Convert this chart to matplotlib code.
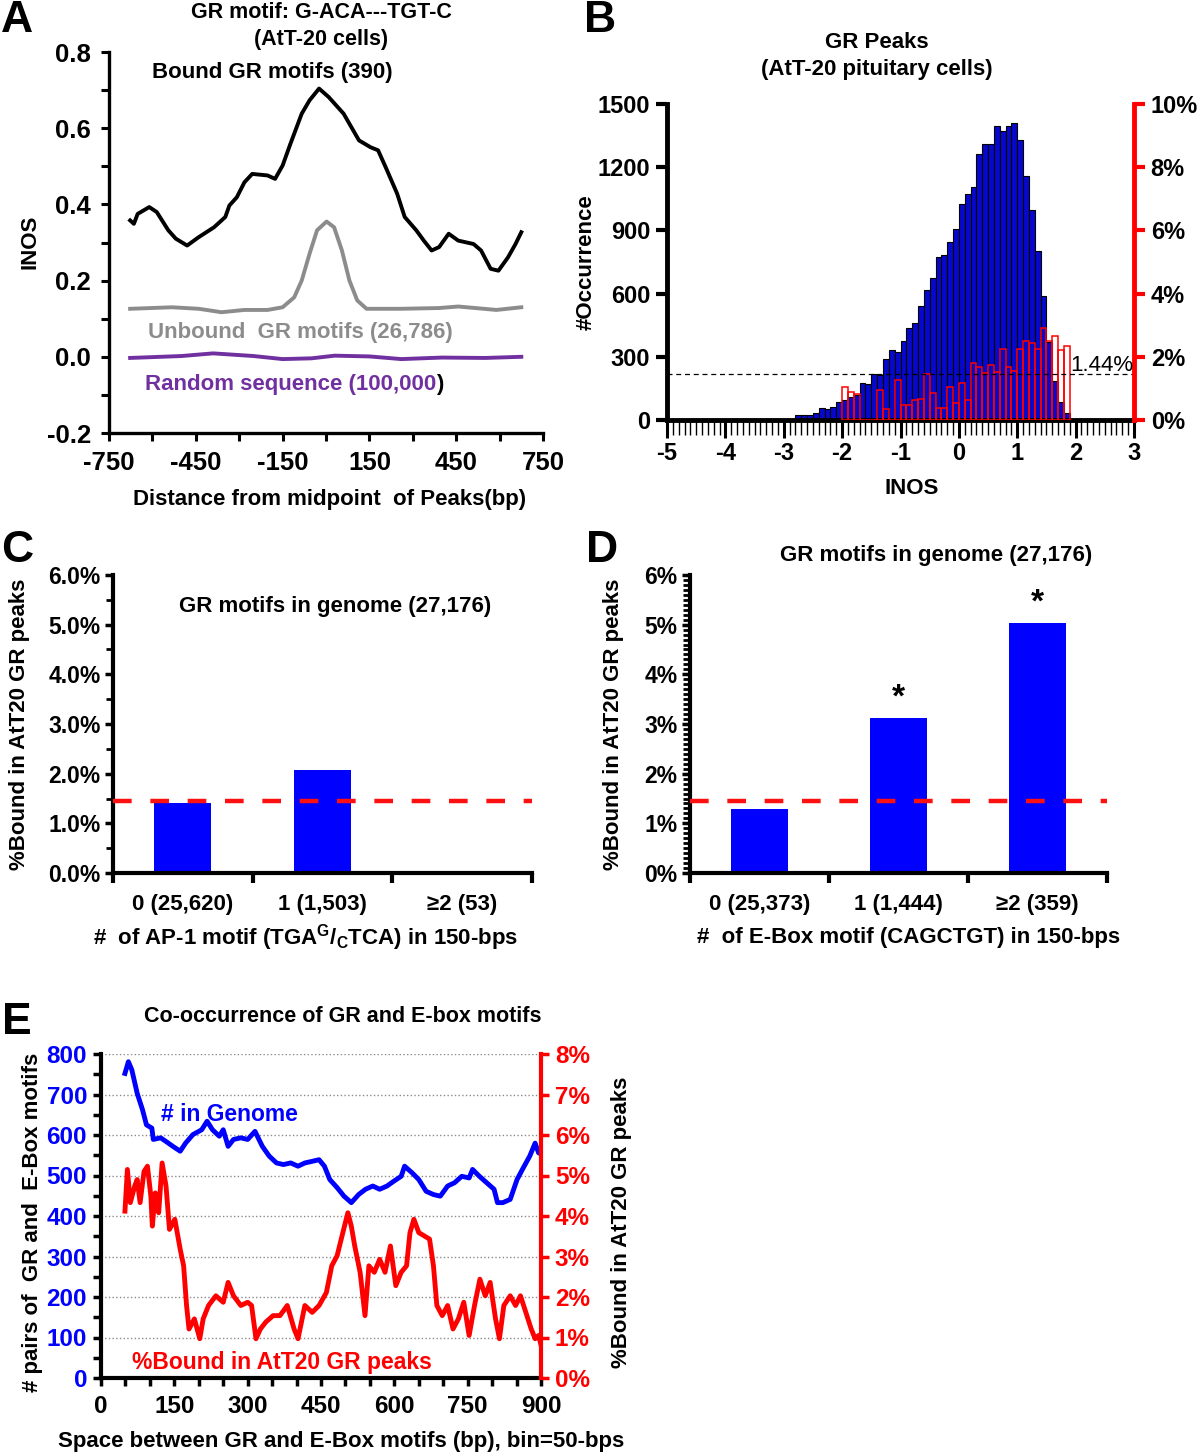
import matplotlib
matplotlib.use("Agg")
import matplotlib.pyplot as plt
from matplotlib.ticker import MultipleLocator, FixedLocator, FuncFormatter

FONT = 'Liberation Sans'
plt.rcParams['font.family'] = [FONT, 'DejaVu Sans']
plt.rcParams['font.weight'] = 'bold'
plt.rcParams['mathtext.fontset'] = 'custom'
plt.rcParams['mathtext.rm'] = FONT + ':bold'
plt.rcParams['mathtext.bf'] = FONT + ':bold'
plt.rcParams['mathtext.it'] = FONT + ':bold'

# ---- panel A: INOS profiles around GR motifs
a_bound_x = [-677, -664, -651, -611, -585, -545, -519, -480, -440, -387, -348, -334, -308,
             -282, -255, -202, -176, -150, -123, -84, -57, -24, 9, 61, 114, 154, 180, 206,
             246, 272, 312, 338, 365, 391, 424, 457, 510, 536, 569, 596, 629, 655, 675]
a_bound_y = [0.358, 0.349, 0.375, 0.393, 0.380, 0.332, 0.310, 0.292, 0.314, 0.340, 0.367,
             0.397, 0.419, 0.458, 0.480, 0.476, 0.467, 0.502, 0.559, 0.638, 0.673, 0.704,
             0.682, 0.638, 0.568, 0.550, 0.542, 0.498, 0.428, 0.367, 0.332, 0.305, 0.279,
             0.288, 0.323, 0.305, 0.296, 0.279, 0.231, 0.226, 0.261, 0.296, 0.327]
a_unbound_x = [-677, -532, -440, -361, -282, -202, -150, -110, -84, -57, -31, 2, 28, 55, 81,
               108, 140, 259, 391, 457, 589, 675]
a_unbound_y = [0.126, 0.130, 0.126, 0.117, 0.123, 0.123, 0.130, 0.156, 0.200, 0.270, 0.332,
               0.355, 0.340, 0.279, 0.200, 0.148, 0.126, 0.126, 0.128, 0.132, 0.123, 0.130]
a_random_x = [-677, -500, -390, -250, -150, -50, 30, 150, 260, 400, 550, 675]
a_random_y = [-0.003, 0.002, 0.009, 0.002, -0.006, -0.004, 0.003, 0.001, -0.006, -0.002,
              -0.003, 0.0]

# ---- panel B: INOS histogram of GR peaks (bins of 0.1)
b_blue_bins = [-2.8, -2.7, -2.6, -2.5, -2.4, -2.3, -2.2, -2.1, -2.0, -1.9, -1.8, -1.7, -1.6,
               -1.5, -1.4, -1.3, -1.2, -1.1, -1.0, -0.9, -0.8, -0.7, -0.6, -0.5, -0.4, -0.3,
               -0.2, -0.1, 0.0, 0.1, 0.2, 0.3, 0.4, 0.5, 0.6, 0.7, 0.8, 0.9, 1.0, 1.1, 1.2,
               1.3, 1.4, 1.5, 1.6, 1.7, 1.8]
b_counts = [25, 25, 25, 35, 55, 50, 60, 85, 95, 110, 120, 175, 170, 220, 215, 290, 330, 325,
            375, 435, 460, 540, 615, 675, 775, 785, 845, 905, 1025, 1075, 1105, 1265, 1310,
            1310, 1395, 1370, 1395, 1410, 1330, 1160, 995, 800, 590, 370, 185, 85, 35]
b_red_bins = [-2.0, -1.9, -1.8, -1.7, -1.6, -1.5, -1.4, -1.3, -1.2, -1.1, -1.0, -0.9, -0.8,
              -0.7, -0.6, -0.5, -0.4, -0.3, -0.2, -0.1, 0.0, 0.1, 0.2, 0.3, 0.4, 0.5, 0.6,
              0.7, 0.8, 0.9, 1.0, 1.1, 1.2, 1.3, 1.4, 1.5, 1.6, 1.7, 1.8]
b_pct = [1.04, 0.88, 0.81, 0, 0, 0, 0.94, 0.34, 0, 1.26, 0.49, 0.48, 0.64, 0.67, 1.45, 0.87,
         0.37, 0.37, 1.04, 0.54, 1.17, 0.64, 1.79, 1.67, 1.48, 1.75, 1.51, 2.25, 1.67, 1.55,
         2.25, 2.5, 2.43, 2.26, 2.91, 2.49, 2.67, 2.21, 2.35]
overall_pct = 1.44

# ---- panels C and D
c_labels = ["0 (25,620)", "1 (1,503)", "\u22652 (53)"]
c_values = [1.40, 2.07, 0.0]
d_labels = ["0 (25,373)", "1 (1,444)", "\u22652 (359)"]
d_values = [1.29, 3.13, 5.04]

# ---- panel E: co-occurrence vs spacing
e_blue_x = [49, 56, 63, 74, 85, 93, 104, 107, 122, 133, 147, 162, 173, 188, 206, 217, 228,
            242, 250, 260, 271, 286, 300, 315, 330, 344, 359, 373, 388, 403, 417, 432, 446,
            457, 468, 483, 497, 512, 527, 541, 556, 570, 585, 599, 614, 621, 636, 650, 665,
            680, 694, 709, 723, 738, 753, 760, 774, 789, 804, 811, 822, 837, 851, 862, 877,
            888, 895, 902]
e_blue_y = [752, 781, 761, 703, 662, 625, 617, 589, 593, 584, 572, 560, 580, 601, 613, 634,
            613, 597, 613, 572, 589, 593, 589, 609, 572, 548, 531, 527, 531, 523, 531, 535,
            539, 523, 490, 470, 449, 433, 453, 466, 474, 466, 474, 486, 498, 523, 507, 490,
            461, 453, 449, 474, 482, 498, 494, 515, 498, 482, 466, 433, 433, 441, 490, 515,
            548, 580, 556, 552]
e_red_x = [49, 54, 60, 69, 74, 80, 88, 95, 102, 105, 111, 118, 125, 133, 140, 151, 162, 169,
           175, 180, 191, 202, 209, 220, 235, 250, 260, 271, 286, 300, 308, 317, 326, 337,
           352, 366, 381, 395, 403, 417, 432, 446, 461, 472, 483, 498, 505, 512, 519, 530,
           540, 548, 559, 570, 581, 592, 603, 614, 625, 632, 640, 650, 661, 672, 680, 687,
           698, 709, 720, 731, 742, 753, 764, 775, 786, 796, 807, 815, 824, 837, 848, 858,
           869, 880, 888, 895, 902]
e_red_y = [4.12, 5.15, 4.33, 4.74, 4.90, 4.33, 5.10, 5.23, 4.49, 3.75, 4.57, 4.08, 5.31,
           4.74, 3.67, 3.92, 3.18, 2.77, 1.79, 1.21, 1.46, 0.97, 1.46, 1.79, 2.03, 1.87,
           2.36, 2.03, 1.79, 1.87, 1.79, 0.97, 1.21, 1.38, 1.54, 1.54, 1.79, 1.21, 0.97,
           1.79, 1.62, 1.79, 2.11, 2.77, 3.02, 3.75, 4.08, 3.75, 3.26, 2.61, 1.54, 2.77,
           2.61, 2.93, 2.61, 3.26, 2.28, 2.61, 2.77, 3.59, 3.92, 3.59, 3.51, 3.43, 2.77,
           1.79, 1.54, 1.79, 1.21, 1.46, 1.87, 1.05, 1.79, 2.44, 2.03, 2.36, 1.46, 0.97,
           1.79, 2.03, 1.79, 2.03, 1.62, 1.21, 0.97, 1.05, 0.72]

W, H = 1200, 1455
fig = plt.figure(figsize=(12, 14.55), dpi=100)

TICK = 17
LAB = 16
TITLE = 15.5


def px_axes(l, t, r, b):
    return fig.add_axes([l / W, 1 - b / H, (r - l) / W, (b - t) / H])


def ftext(x, y, s, **kw):
    kw.setdefault('ha', 'center')
    kw.setdefault('va', 'center')
    fig.text(x / W, 1 - y / H, s, **kw)


def style_axes(ax, lw=2.4):
    for s in ['top', 'right']:
        ax.spines[s].set_visible(False)
    for s in ['left', 'bottom']:
        ax.spines[s].set_linewidth(lw)


# panel letters
for letter, (lx, ly) in {"A": (17, 21), "B": (600, 21), "C": (17, 550),
                         "D": (602, 550), "E": (17, 1023)}.items():
    ftext(lx, ly, letter, fontsize=32)

# ================= A
ax = px_axes(109, 52, 543, 433)
ax.plot(a_bound_x, a_bound_y, color='black', lw=2.8)
ax.plot(a_unbound_x, a_unbound_y, color='#8c8c8c', lw=2.8)
ax.plot(a_random_x, a_random_y, color='#7030a0', lw=2.8)
ax.set_xlim(-750, 750)
ax.set_ylim(-0.2, 0.8)
ax.set_xticks([-750, -450, -150, 150, 450, 750])
ax.xaxis.set_minor_locator(FixedLocator([-600, -300, 0, 300, 600]))
ax.yaxis.set_major_locator(MultipleLocator(0.2))
ax.yaxis.set_minor_locator(MultipleLocator(0.1))
ax.yaxis.set_major_formatter(FuncFormatter(lambda v, p: f"{v:.1f}"))
ax.xaxis.set_major_formatter(FuncFormatter(lambda v, p: f"{v:.0f}"))
style_axes(ax)
ax.tick_params(which='major', direction='out', length=6, width=2.2, labelsize=18.5, pad=7)
ax.tick_params(which='minor', direction='out', length=6, width=2.2)
ax.text(-187, 0.747, "Bound GR motifs (390)", ha='center', va='center', fontsize=LAB)
ax.text(-90, 0.064, "Unbound  GR motifs (26,786)", ha='center', va='center', fontsize=LAB,
        color='#8c8c8c')
t = ax.text(-625, -0.074, "Random sequence (100,000", ha='left', va='center', fontsize=LAB,
            color='#7030a0')
ax.annotate(")", xy=(1, 0.5), xycoords=t, ha='left', va='center', fontsize=LAB, color='black')
ftext(321, 13, "GR motif: G-ACA---TGT-C", fontsize=TITLE)
ftext(321, 39, "(AtT-20 cells)", fontsize=TITLE)
ftext(30, 242, "INOS", fontsize=LAB, rotation=90)
ftext(330, 499, "Distance from midpoint  of Peaks(bp)", fontsize=LAB)

# ================= B
bx = px_axes(667, 104, 1134, 420)
bx.bar(b_blue_bins, b_counts, width=0.1, align='edge', color='#0808cc', edgecolor='black',
       linewidth=0.8)
bx.set_xlim(-5, 3)
bx.set_ylim(0, 1500)
bx.set_yticks([0, 300, 600, 900, 1200, 1500])
bx.xaxis.set_major_locator(MultipleLocator(1))
bx.xaxis.set_minor_locator(MultipleLocator(0.1))
bx.xaxis.set_major_formatter(FuncFormatter(lambda v, p: f"{v:.0f}"))
style_axes(bx, lw=3.5)
bx.tick_params(axis='x', which='major', direction='out', length=13, width=2.2,
               labelsize=TICK, pad=3)
bx.tick_params(axis='x', which='minor', direction='out', length=11, width=1)
bx.tick_params(axis='y', direction='out', length=8, width=3, labelsize=TICK, pad=4)
br = bx.twinx()
br.bar(b_red_bins, b_pct, width=0.1, align='edge', fill=False, edgecolor='red', linewidth=1.1)
br.axhline(overall_pct, color='black', lw=0.9, dashes=(4, 3))
br.set_ylim(0, 10)
br.set_yticks([0, 2, 4, 6, 8, 10])
br.yaxis.set_major_formatter(FuncFormatter(lambda v, p: f"{v:.0f}%"))
for s in ['top', 'left', 'bottom']:
    br.spines[s].set_visible(False)
br.spines['right'].set_color('red')
br.spines['right'].set_linewidth(3.5)
br.tick_params(axis='y', direction='out', length=8, width=3, color='red', labelsize=TICK,
               labelcolor='black', pad=4)
br.text(1.9, 1.74, "1.44%", ha='left', va='center', fontsize=16, fontweight='normal')
ftext(877, 42, "GR Peaks", fontsize=16)
ftext(877, 69, "(AtT-20 pituitary cells)", fontsize=16)
ftext(586, 262, "#Occurrence", fontsize=LAB, rotation=90)
ftext(912, 489, "INOS", fontsize=LAB)


# ================= C and D
def bar_panel(l, r, values, labels, fmt, minor_step):
    cx = px_axes(l, 575, r, 873)
    cx.bar(range(len(values)), values, width=0.41, color='#0000ff', zorder=2)
    cx.axhline(overall_pct, color='#ff1010', lw=3.2, dashes=(4.2, 4.2), zorder=3)
    cx.set_xlim(-0.5, 2.5)
    cx.set_ylim(0, 6)
    cx.set_xticks([-0.5, 0.5, 1.5, 2.5])
    cx.set_xticklabels([])
    cx.set_xticks([0, 1, 2], minor=True)
    cx.set_xticklabels(labels, minor=True)
    cx.yaxis.set_major_locator(MultipleLocator(1))
    cx.yaxis.set_minor_locator(MultipleLocator(minor_step))
    cx.yaxis.set_major_formatter(FuncFormatter(fmt))
    style_axes(cx, lw=3)
    cx.tick_params(axis='x', which='major', direction='out', length=7, width=3)
    cx.tick_params(axis='x', which='minor', length=0, labelsize=16, pad=15)
    cx.tick_params(axis='y', which='major', direction='out', length=6, width=2.5,
                   labelsize=16.5, pad=3)
    cx.tick_params(axis='y', which='minor', direction='out', length=5, width=2)
    return cx


cx = bar_panel(113, 532, c_values, c_labels, lambda v, p: f"{v:.1f}%", 0.5)
cx.text(1.09, 5.36, "GR motifs in genome (27,176)", ha='center', va='center', fontsize=16)
ftext(20, 724, "%Bound in AtT20 GR peaks", fontsize=LAB, rotation=90)
ftext(306, 938, r"#  of AP-1 motif (TGA$^{\mathbf{G}}$/$_{\mathbf{C}}$TCA) in 150-bps",
      fontsize=LAB)

dx = bar_panel(690, 1107, d_values, d_labels, lambda v, p: f"{v:.0f}%", 0.1)
for i, v in enumerate(d_values):
    if i > 0:
        dx.text(i, v + 0.4, "*", ha='center', va='center', fontsize=24)
ftext(936, 555, "GR motifs in genome (27,176)", fontsize=16)
ftext(613, 724, "%Bound in AtT20 GR peaks", fontsize=LAB, rotation=90)
ftext(909, 937, "#  of E-Box motif (CAGCTGT) in 150-bps", fontsize=LAB)

# ================= E
ex = px_axes(101, 1054, 541, 1378)
ex.plot(e_blue_x, e_blue_y, color='#0000ff', lw=3.5, zorder=3)
ex.set_xlim(0, 900)
ex.set_ylim(0, 800)
ex.xaxis.set_major_locator(MultipleLocator(150))
ex.xaxis.set_minor_locator(MultipleLocator(50))
ex.yaxis.set_major_locator(MultipleLocator(100))
ex.yaxis.set_minor_locator(MultipleLocator(50))
ex.yaxis.grid(True, which='major', linestyle=':', color='#8a8a8a', lw=1.0)
style_axes(ex, lw=3)
ex.tick_params(axis='both', which='major', direction='out', length=6, width=2.5,
               labelsize=17.5, pad=6)
ex.tick_params(axis='both', which='minor', direction='out', length=6, width=2.5)
ex.tick_params(axis='y', labelcolor='#0000ff', pad=4)
er = ex.twinx()
er.plot(e_red_x, e_red_y, color='#ff0000', lw=3.5)
er.set_ylim(0, 8)
er.yaxis.set_major_locator(MultipleLocator(1))
er.yaxis.set_major_formatter(FuncFormatter(lambda v, p: f"{v:.0f}%"))
for s in ['top', 'left', 'bottom']:
    er.spines[s].set_visible(False)
er.spines['right'].set_color('red')
er.spines['right'].set_linewidth(3)
er.tick_params(axis='y', direction='out', length=6, width=2.5, color='red',
               labelcolor='red', labelsize=17.5, pad=4)
ex.text(262, 651, "# in Genome", ha='center', va='center', fontsize=16.5, color='#0000ff')
ex.text(371, 38, "%Bound in AtT20 GR peaks", ha='center', va='center', fontsize=16.5,
        color='#ff0000')
ftext(343, 1017, "Co-occurrence of GR and E-box motifs", fontsize=TITLE)
ftext(33, 1222, "# pairs of  GR and  E-Box motifs", fontsize=LAB, rotation=90)
ftext(621, 1222, "%Bound in AtT20 GR peaks", fontsize=LAB, rotation=90)
ftext(341, 1442, "Space between GR and E-Box motifs (bp), bin=50-bps", fontsize=LAB)

fig.savefig("out.png", dpi=100)
